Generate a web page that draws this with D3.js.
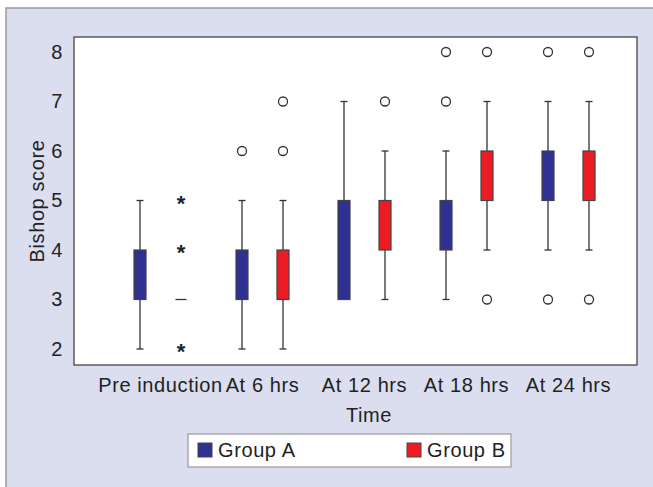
<!DOCTYPE html>
<html>
<head>
<meta charset="utf-8">
<script src="https://cdn.jsdelivr.net/npm/d3@7"></script>
<style>
  body { margin: 0; background: #fff; }
  text { font-family: "Liberation Sans", Arial, sans-serif; fill: #222; letter-spacing: 0.6px; }
</style>
</head>
<body>
<script>
// data
const categories = ["Pre induction", "At 6 hrs", "At 12 hrs", "At 18 hrs", "At 24 hrs"];
const groups = ["Group A", "Group B"];
const colors = ["#2e3192", "#ed1c24"];
const yTicks = [2, 3, 4, 5, 6, 7, 8];

const aLow = [2, 2, 3, 3, 4];
const aQ1 = [3, 3, 3, 4, 5];
const aQ3 = [4, 4, 5, 5, 6];
const aHigh = [5, 5, 7, 6, 7];
const aOutliers = [[], [6], [], [7, 8], [3, 8]];
const aExtremes = [[], [], [], [], []];

const bLow = [3, 2, 3, 4, 4];
const bQ1 = [3, 3, 4, 5, 5];
const bQ3 = [3, 4, 5, 6, 6];
const bHigh = [3, 5, 6, 7, 7];
const bOutliers = [[], [6, 7], [7], [3, 8], [3, 8]];
const bExtremes = [[2, 4, 5], [], [], [], []];

const W = 653, H = 487;
const svg = d3.select("body").append("svg").attr("width", W).attr("height", H);

// outer panel
svg.append("rect").attr("x", 6).attr("y", 8).attr("width", W).attr("height", H)
  .attr("fill", "#dbdeef").attr("stroke", "#9a9a9a").attr("stroke-width", 1.5);

const plot = { left: 74, top: 37, right: 637, bottom: 365 };
svg.append("rect").attr("x", plot.left).attr("y", plot.top)
  .attr("width", plot.right - plot.left).attr("height", plot.bottom - plot.top)
  .attr("fill", "#fff").attr("stroke", "#444").attr("stroke-width", 1.3);

const x = d3.scaleBand().domain(categories).range([109.5, 619.5]);
const xg = d3.scalePoint().domain(groups).range([-20.5, 20.5]);
const y = d3.scaleLinear().domain([2, 8]).range([349, 52]);

// axes (labels only, no tick marks)
const yAxis = svg.append("g").attr("transform", `translate(${plot.left},0)`)
  .call(d3.axisLeft(y).tickValues(yTicks).tickSize(0).tickPadding(11).tickFormat(d3.format("d")));
yAxis.select(".domain").remove();
yAxis.selectAll("text").attr("font-size", 20).attr("fill", "#222");

const xAxis = svg.append("g").attr("transform", `translate(0,${plot.bottom})`)
  .call(d3.axisBottom(x).tickSize(0).tickPadding(13));
xAxis.select(".domain").remove();
xAxis.selectAll("text").attr("font-size", 20).attr("fill", "#222");

svg.append("text").attr("x", 369).attr("y", 422).attr("text-anchor", "middle")
  .attr("font-size", 20).text("Time");
svg.append("text").attr("transform", "translate(44,201) rotate(-90)")
  .attr("text-anchor", "middle").attr("font-size", 20).text("Bishop score");

const series = [
  { low: aLow, q1: aQ1, q3: aQ3, high: aHigh, out: aOutliers, ext: aExtremes },
  { low: bLow, q1: bQ1, q3: bQ3, high: bHigh, out: bOutliers, ext: bExtremes }
];

const boxW = 12, capW = 7;
series.forEach((s, gi) => {
  const g = svg.append("g");
  categories.forEach((c, i) => {
    const cx = x(c) + x.bandwidth() / 2 + xg(groups[gi]);
    const line = (x1, y1, x2, y2) => g.append("line")
      .attr("x1", x1).attr("y1", y1).attr("x2", x2).attr("y2", y2)
      .attr("stroke", "#333").attr("stroke-width", 1.3);
    if (s.q1[i] === s.q3[i]) {
      line(cx - 5.5, y(s.q1[i]), cx + 5.5, y(s.q1[i]));
    } else {
      if (s.low[i] < s.q1[i]) {
        line(cx, y(s.low[i]), cx, y(s.q1[i]));
        line(cx - capW / 2, y(s.low[i]), cx + capW / 2, y(s.low[i]));
      }
      if (s.high[i] > s.q3[i]) {
        line(cx, y(s.high[i]), cx, y(s.q3[i]));
        line(cx - capW / 2, y(s.high[i]), cx + capW / 2, y(s.high[i]));
      }
      g.append("rect").attr("x", cx - boxW / 2).attr("y", y(s.q3[i]))
        .attr("width", boxW).attr("height", y(s.q1[i]) - y(s.q3[i]))
        .attr("fill", colors[gi]).attr("stroke", "#444").attr("stroke-width", 1.2);
    }
    s.out[i].forEach(v => {
      g.append("circle").attr("cx", cx).attr("cy", y(v)).attr("r", 4.5)
        .attr("fill", "none").attr("stroke", "#333").attr("stroke-width", 1.3);
    });
    s.ext[i].forEach(v => {
      g.append("text").attr("x", cx).attr("y", y(v) + 10).attr("text-anchor", "middle")
        .attr("font-size", 22).attr("font-weight", "bold").style("letter-spacing", "0").text("*");
    });
  });
});

// legend
const lg = svg.append("g");
lg.append("rect").attr("x", 188).attr("y", 434).attr("width", 323).attr("height", 33)
  .attr("fill", "#fff").attr("stroke", "#999").attr("stroke-width", 1.2);
const legendX = [198, 407];
groups.forEach((gname, i) => {
  lg.append("rect").attr("x", legendX[i]).attr("y", 443).attr("width", 14).attr("height", 14)
    .attr("fill", colors[i]).attr("stroke", "#444").attr("stroke-width", 1);
  lg.append("text").attr("x", legendX[i] + 20).attr("y", 457).attr("font-size", 20).text(gname);
});
</script>
</body>
</html>
